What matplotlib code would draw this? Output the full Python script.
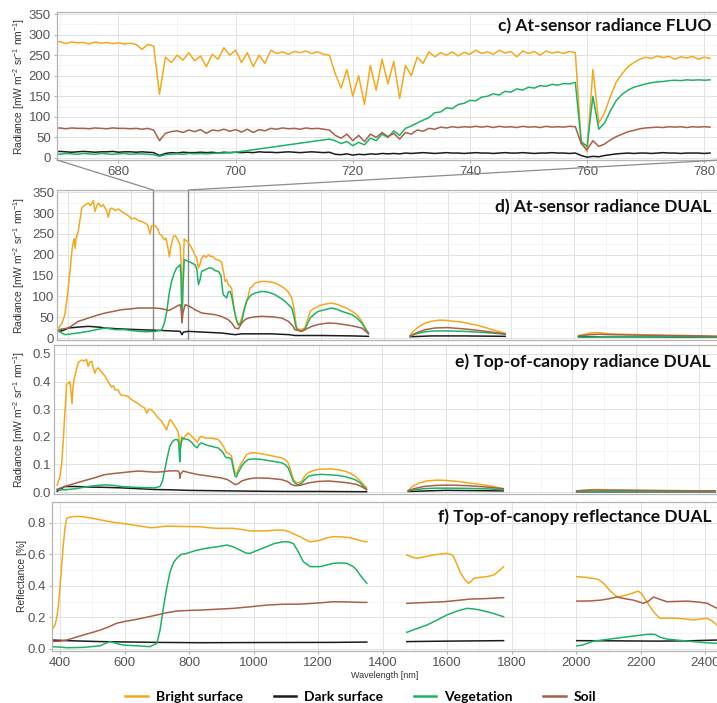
import numpy as np
import matplotlib
matplotlib.use('Agg')
import matplotlib.pyplot as plt
from matplotlib.patches import ConnectionPatch
from matplotlib.ticker import MultipleLocator
from matplotlib.lines import Line2D

plt.rcParams['font.family'] = ['Liberation Sans', 'DejaVu Sans']
plt.rcParams['mathtext.default'] = 'regular'

# ---------------- data ----------------
names = ['Bright surface', 'Dark surface', 'Vegetation', 'Soil']
colors = ['#f5a81c', '#1c1c1c', '#1fb267', '#a8604a']

# c) FLUO at-sensor radiance, 669-781 nm, 1 nm steps
fluo_wl = list(range(669, 782))
c_bright = [280, 283, 278, 282, 280, 281, 277, 282, 279, 281,
            278, 280, 277, 279, 276, 264, 276, 272, 155, 245,
            232, 250, 238, 256, 236, 248, 222, 252, 240, 268,
            250, 262, 232, 256, 222, 250, 230, 262, 254, 258,
            252, 259, 256, 260, 254, 258, 252, 250, 205, 170,
            215, 150, 200, 130, 225, 165, 240, 180, 235, 145,
            225, 200, 245, 230, 258, 246, 256, 250, 258, 248,
            257, 252, 262, 254, 258, 252, 262, 255, 259, 246,
            260, 254, 259, 250, 260, 255, 258, 254, 259, 256,
            40, 15, 215, 85, 110, 150, 185, 205, 222, 232,
            240, 245, 242, 248, 244, 247, 240, 246, 243, 247,
            240, 245, 242]
c_dark = [15, 16, 15, 14, 15, 16, 15, 14, 15, 15,
          16, 14, 15, 15, 14, 15, 14, 13, 6, 11,
          13, 12, 14, 13, 13, 14, 13, 14, 12, 14,
          13, 14, 13, 14, 13, 15, 14, 14, 13, 14,
          15, 14, 13, 14, 15, 14, 13, 14, 9, 8,
          10, 7, 9, 8, 10, 9, 11, 10, 11, 10,
          12, 11, 12, 13, 12, 11, 12, 13, 12, 12,
          11, 12, 13, 12, 12, 11, 12, 13, 12, 12,
          13, 12, 11, 12, 12, 13, 12, 12, 11, 12,
          6, 2, 4, 3, 6, 8, 10, 11, 12, 11,
          12, 12, 11, 12, 13, 12, 12, 11, 12, 12,
          12, 11, 12]
c_veg = [11, 9, 11, 10, 9, 11, 10, 9, 11, 10,
         9, 10, 11, 9, 10, 10, 9, 8, 4, 8,
         9, 10, 9, 11, 10, 11, 10, 11, 12, 12,
         13, 14, 16, 18, 20, 22, 24, 26, 28, 30,
         32, 34, 36, 38, 40, 42, 44, 46, 42, 35,
         40, 30, 38, 32, 48, 42, 58, 50, 66, 55,
         72, 78, 85, 92, 98, 110, 112, 122, 120, 130,
         133, 140, 139, 148, 150, 156, 153, 162, 160, 168,
         165, 172, 170, 176, 174, 179, 177, 181, 180, 184,
         40, 28, 150, 70, 85, 115, 140, 155, 165, 172,
         176, 180, 183, 185, 186, 188, 189, 188, 190, 189,
         190, 189, 190]
c_soil = [72, 73, 71, 73, 72, 72, 71, 73, 72, 71,
          73, 72, 72, 71, 72, 70, 72, 68, 42, 60,
          64, 66, 62, 68, 64, 69, 60, 68, 66, 70,
          65, 69, 63, 70, 62, 69, 66, 72, 70, 73,
          71, 72, 70, 73, 71, 72, 70, 68, 55, 48,
          58, 42, 55, 40, 58, 50, 62, 52, 60, 46,
          62, 58, 68, 65, 72, 70, 75, 73, 76, 74,
          76, 75, 77, 75, 77, 74, 77, 75, 76, 74,
          77, 75, 76, 74, 77, 75, 76, 75, 77, 76,
          35, 20, 42, 28, 34, 44, 52, 58, 64, 67,
          71, 73, 74, 75, 74, 76, 75, 76, 74, 76,
          75, 76, 75]

# d) DUAL at-sensor radiance
d_bright_wl = [372, 381, 391, 400, 407, 414, 418, 421, 423, 426, 433, 440, 444, 455, 465, 472, 481, 486, 492, 497,
               505, 512, 518, 523, 528, 534, 539, 550, 560, 570, 578, 586, 594, 602, 612, 623, 633, 644, 652, 660,
               665, 676, 684, 690, 697, 705, 710, 713, 718, 721, 726, 734, 740, 744, 750, 755, 758, 761, 764, 768,
               771, 781, 790, 797, 802, 808, 813, 818, 823, 830, 838, 844, 851, 858, 865, 872, 880, 886, 892, 897,
               902, 907, 913, 918, 924, 929, 934, 939, 945, 950, 957, 965, 970, 976, 981, 992, 1002, 1013, 1023, 1034,
               1045, 1055, 1066, 1076, 1087, 1097, 1108, 1115, 1120, 1124, 1134, 1145, 1150, 1158, 1166, 1176, 1192, 1205, 1218, 1234,
               1245, 1255, 1266, 1280, 1298, 1310, 1320, 1329, 1340, 1350,
               1482, 1490, 1503, 1515, 1534, 1555, 1576, 1600, 1620, 1640, 1665, 1692, 1720, 1745, 1765, 1782,
               2014, 2030, 2050, 2070, 2090, 2110, 2150, 2200, 2250, 2300, 2350, 2400, 2452]
d_bright = [25, 35, 56, 110, 160, 215, 232, 238, 215, 238, 256, 290, 312, 320, 324, 318, 330, 304, 318, 324,
            316, 320, 312, 306, 290, 310, 312, 306, 310, 304, 300, 296, 292, 286, 288, 282, 280, 276, 272, 250,
            270, 270, 262, 250, 246, 236, 240, 230, 210, 195, 220, 244, 246, 240, 232, 222, 180, 40, 150, 238,
            236, 230, 218, 208, 200, 190, 168, 178, 192, 198, 194, 200, 196, 196, 190, 188, 186, 182, 160, 136,
            140, 128, 124, 118, 80, 56, 40, 30, 38, 48, 70, 88, 100, 120, 122, 132, 134, 136, 136, 135,
            134, 132, 128, 124, 118, 110, 96, 70, 40, 24, 20, 22, 26, 45, 64, 70, 76, 80, 82, 84,
            82, 80, 76, 72, 64, 58, 50, 40, 25, 12,
            7, 15, 23, 30, 37, 41, 43, 42, 40, 39, 35, 31, 25, 19, 15, 11,
            6, 8, 12, 13, 12, 10, 9, 8, 7, 6, 6, 5, 4]
d_dark_wl = [372, 385, 402, 430, 465, 500, 518, 560, 623, 700, 755, 761, 765, 781, 830, 886, 929, 950, 1000, 1044,
             1100, 1118, 1202, 1300, 1350,
             1482, 1550, 1650, 1782,
             2014, 2200, 2452]
d_dark = [16, 18, 24, 26, 28, 26, 24, 22, 20, 18, 16, 8, 14, 16, 14, 12, 8, 10, 10, 10,
          8, 6, 6, 5, 4,
          3, 5, 5, 4,
          3, 3, 2]
d_veg_wl = [372, 381, 391, 410, 433, 465, 490, 518, 535, 549, 580, 623, 650, 676, 690, 697, 705, 713, 720, 728,
            736, 744, 750, 755, 758, 761, 764, 768, 775, 781, 792, 802, 808, 813, 818, 823, 835, 845, 855, 865,
            876, 884, 891, 897, 902, 907, 913, 918, 924, 929, 934, 939, 945, 950, 957, 965, 973, 981, 992, 1013,
            1034, 1055, 1076, 1087, 1097, 1108, 1115, 1120, 1124, 1139, 1150, 1158, 1166, 1180, 1192, 1213, 1234, 1250, 1266, 1282,
            1298, 1315, 1329, 1340, 1350,
            1482, 1500, 1530, 1560, 1600, 1650, 1700, 1740, 1782,
            2014, 2100, 2200, 2300, 2452]
d_veg = [16, 12, 8, 10, 12, 16, 20, 24, 22, 20, 20, 16, 15, 16, 18, 20, 35, 64, 105, 136,
         155, 168, 172, 176, 150, 40, 120, 188, 186, 184, 180, 176, 165, 128, 140, 160, 164, 168, 168, 162,
         160, 150, 104, 100, 96, 110, 112, 100, 75, 56, 42, 32, 34, 40, 65, 88, 98, 104, 108, 112,
         110, 104, 94, 88, 80, 72, 50, 30, 20, 16, 22, 35, 48, 58, 64, 68, 72, 69, 64, 60,
         56, 47, 36, 22, 12,
         4, 10, 15, 17, 17, 16, 14, 12, 9,
         2, 3, 3, 3, 2]
d_soil_wl = [372, 385, 402, 418, 433, 450, 465, 490, 518, 545, 570, 600, 623, 650, 676, 700, 718, 730, 744, 755,
             758, 761, 764, 771, 785, 802, 813, 823, 845, 865, 885, 907, 918, 929, 939, 950, 960, 971, 992, 1013,
             1045, 1076, 1097, 1110, 1118, 1139, 1155, 1171, 1195, 1223, 1250, 1276, 1300, 1329, 1340, 1350,
             1482, 1500, 1530, 1560, 1600, 1650, 1700, 1740, 1782,
             2014, 2050, 2080, 2120, 2200, 2300, 2400, 2452]
d_soil = [20, 22, 24, 32, 40, 44, 48, 54, 60, 64, 68, 70, 72, 72, 72, 70, 66, 70, 76, 80,
          70, 36, 60, 80, 76, 68, 64, 60, 58, 56, 52, 44, 36, 24, 22, 36, 44, 48, 51, 52,
          51, 48, 40, 30, 20, 16, 22, 28, 33, 36, 35, 32, 29, 24, 17, 10,
          5, 12, 20, 24, 25, 22, 18, 14, 10,
          5, 8, 9, 8, 7, 6, 5, 4]

# e) DUAL top-of-canopy radiance
e_bright_wl = [372, 381, 386, 391, 396, 402, 412, 416, 419, 422, 426, 432, 439, 449, 457, 465, 470, 475, 481, 486,
               491, 496, 502, 512, 523, 533, 544, 550, 555, 565, 571, 576, 586, 597, 607, 618, 628, 639, 648, 655,
               662, 670, 680, 691, 700, 705, 712, 718, 722, 728, 735, 744, 750, 755, 758, 760, 762, 766, 770, 778,
               786, 795, 807, 815, 822, 828, 838, 849, 860, 872, 881, 890, 897, 902, 907, 915, 923, 928, 934, 939,
               944, 950, 955, 965, 971, 980, 987, 1000, 1029, 1055, 1081, 1092, 1102, 1110, 1118, 1126, 1134, 1145, 1155, 1166,
               1180, 1197, 1218, 1239, 1260, 1281, 1298, 1313, 1325, 1338, 1350,
               1482, 1495, 1515, 1540, 1570, 1600, 1640, 1680, 1720, 1750, 1782,
               2014, 2050, 2080, 2120, 2200, 2300, 2452]
e_bright = [0.025, 0.057, 0.10, 0.18, 0.28, 0.39, 0.40, 0.36, 0.32, 0.38, 0.41, 0.44, 0.47, 0.478, 0.475, 0.48, 0.455, 0.47, 0.474, 0.45,
            0.43, 0.445, 0.45, 0.435, 0.42, 0.40, 0.38, 0.385, 0.37, 0.37, 0.355, 0.35, 0.35, 0.345, 0.335, 0.327, 0.32, 0.31, 0.305, 0.286,
            0.30, 0.298, 0.285, 0.268, 0.26, 0.25, 0.238, 0.225, 0.24, 0.262, 0.255, 0.238, 0.228, 0.214, 0.18, 0.13, 0.18, 0.20, 0.19, 0.205,
            0.214, 0.205, 0.19, 0.18, 0.198, 0.202, 0.196, 0.196, 0.195, 0.192, 0.19, 0.178, 0.166, 0.155, 0.142, 0.14, 0.13, 0.10, 0.07, 0.065,
            0.082, 0.095, 0.106, 0.125, 0.136, 0.14, 0.142, 0.142, 0.136, 0.13, 0.124, 0.118, 0.106, 0.08, 0.046, 0.036, 0.033, 0.04, 0.058, 0.07,
            0.077, 0.082, 0.083, 0.084, 0.08, 0.076, 0.068, 0.058, 0.045, 0.03, 0.015,
            0.006, 0.02, 0.032, 0.04, 0.043, 0.042, 0.038, 0.032, 0.026, 0.02, 0.012,
            0.004, 0.008, 0.009, 0.007, 0.006, 0.005, 0.004]
e_dark_wl = [372, 385, 396, 430, 470, 520, 576, 630, 681, 730, 786, 850, 920, 997, 1100, 1200, 1350,
             1482, 1600, 1782,
             2014, 2452]
e_dark = [0.003, 0.012, 0.02, 0.02, 0.018, 0.017, 0.015, 0.012, 0.009, 0.008, 0.006, 0.005, 0.004, 0.003, 0.002, 0.002, 0.001,
          0.002, 0.006, 0.004,
          0.001, 0.001]
e_veg_wl = [372, 396, 430, 470, 500, 523, 550, 576, 620, 681, 697, 705, 712, 720, 728, 736, 744, 752, 756, 759,
            760, 762, 767, 776, 786, 797, 807, 815, 820, 828, 840, 850, 860, 870, 881, 890, 897, 902, 907, 915,
            923, 928, 934, 939, 944, 950, 955, 965, 976, 995, 1018, 1050, 1081, 1092, 1102, 1110, 1118, 1126, 1134, 1145,
            1155, 1166, 1185, 1208, 1235, 1260, 1285, 1313, 1330, 1340, 1350,
            1482, 1500, 1530, 1570, 1620, 1680, 1740, 1782,
            2014, 2200, 2452]
e_veg = [0.008, 0.008, 0.012, 0.02, 0.024, 0.026, 0.024, 0.02, 0.017, 0.015, 0.02, 0.04, 0.08, 0.125, 0.166, 0.182, 0.19, 0.19, 0.18, 0.12,
         0.11, 0.16, 0.196, 0.192, 0.19, 0.18, 0.166, 0.16, 0.172, 0.178, 0.172, 0.168, 0.166, 0.162, 0.16, 0.15, 0.142, 0.13, 0.124, 0.125,
         0.118, 0.09, 0.057, 0.055, 0.07, 0.082, 0.094, 0.108, 0.118, 0.12, 0.118, 0.112, 0.106, 0.1, 0.088, 0.065, 0.04, 0.03, 0.026, 0.032,
         0.045, 0.057, 0.062, 0.064, 0.062, 0.06, 0.055, 0.045, 0.033, 0.02, 0.01,
         0.004, 0.008, 0.012, 0.014, 0.014, 0.013, 0.011, 0.008,
         0.002, 0.002, 0.002]
e_soil_wl = [372, 396, 430, 470, 500, 523, 550, 576, 600, 628, 655, 681, 700, 723, 740, 755, 758, 760, 762, 770,
             790, 818, 850, 891, 910, 920, 934, 944, 955, 975, 997, 1040, 1081, 1100, 1112, 1123, 1140, 1166, 1195, 1228,
             1260, 1292, 1320, 1340, 1350,
             1482, 1500, 1530, 1570, 1620, 1670, 1720, 1782,
             2014, 2060, 2120, 2200, 2300, 2452]
e_soil = [0.01, 0.02, 0.032, 0.045, 0.055, 0.063, 0.067, 0.07, 0.073, 0.076, 0.074, 0.072, 0.073, 0.076, 0.077, 0.076, 0.07, 0.05, 0.065, 0.076,
          0.07, 0.063, 0.058, 0.051, 0.045, 0.038, 0.027, 0.03, 0.04, 0.047, 0.051, 0.05, 0.045, 0.038, 0.028, 0.023, 0.024, 0.033, 0.038, 0.04,
          0.037, 0.033, 0.027, 0.016, 0.008,
          0.005, 0.012, 0.02, 0.024, 0.025, 0.023, 0.019, 0.012,
          0.004, 0.007, 0.007, 0.006, 0.005, 0.004]

# f) DUAL top-of-canopy reflectance
f_bright_wl = [374, 384, 390, 395, 402, 410, 416, 421, 436, 455, 472, 500, 524, 560, 600, 627, 650, 679, 700, 710,
               731, 780, 834, 860, 886, 937, 960, 989, 1041, 1070, 1092, 1110, 1130, 1144, 1160, 1175, 1190, 1206, 1225, 1247,
               1275, 1299, 1320, 1330, 1351,
               1475, 1490, 1506, 1530, 1558, 1580, 1599, 1612, 1620, 1630, 1640, 1655, 1666, 1675, 1682, 1700, 1723, 1745, 1760, 1775,
               2002, 2030, 2054, 2070, 2085, 2105, 2126, 2140, 2157, 2175, 2193, 2205, 2219, 2230, 2240, 2252, 2261, 2285, 2313, 2340,
               2364, 2385, 2406, 2420, 2437]
f_bright = [0.12, 0.15, 0.2, 0.28, 0.45, 0.66, 0.78, 0.83, 0.84, 0.842, 0.84, 0.83, 0.82, 0.806, 0.795, 0.787, 0.78, 0.77, 0.772, 0.776,
            0.78, 0.778, 0.776, 0.77, 0.766, 0.766, 0.76, 0.75, 0.75, 0.755, 0.755, 0.745, 0.725, 0.713, 0.695, 0.68, 0.685, 0.69, 0.705, 0.713,
            0.712, 0.706, 0.695, 0.688, 0.68,
            0.597, 0.585, 0.576, 0.585, 0.597, 0.603, 0.607, 0.6, 0.587, 0.54, 0.49, 0.44, 0.417, 0.43, 0.448, 0.455, 0.459, 0.47, 0.495, 0.523,
            0.459, 0.455, 0.448, 0.44, 0.417, 0.37, 0.332, 0.335, 0.343, 0.355, 0.368, 0.345, 0.30, 0.265, 0.237, 0.21, 0.195, 0.196, 0.195, 0.19,
            0.184, 0.19, 0.195, 0.18, 0.152]
f_dark_wl = [374, 421, 524, 700, 834, 1000, 1247, 1351,
             1475, 1600, 1775,
             2002, 2100, 2250, 2350, 2437]
f_dark = [0.057, 0.053, 0.047, 0.042, 0.04, 0.041, 0.042, 0.044,
          0.047, 0.05, 0.053,
          0.053, 0.052, 0.05, 0.052, 0.057]
f_veg_wl = [374, 400, 421, 470, 524, 540, 555, 575, 596, 640, 679, 700, 710, 720, 730, 741, 752, 762, 775, 793,
            820, 855, 890, 917, 935, 958, 975, 989, 1010, 1041, 1065, 1092, 1108, 1123, 1138, 1154, 1175, 1206, 1230, 1247,
            1270, 1289, 1309, 1320, 1330, 1351,
            1475, 1500, 1537, 1570, 1599, 1630, 1661, 1680, 1703, 1740, 1775,
            2002, 2020, 2054, 2100, 2157, 2200, 2230, 2245, 2260, 2282, 2320, 2364, 2400, 2437]
f_veg = [0.015, 0.012, 0.008, 0.01, 0.02, 0.035, 0.047, 0.035, 0.025, 0.02, 0.015, 0.036, 0.12, 0.258, 0.38, 0.49, 0.55, 0.576, 0.6, 0.607,
         0.625, 0.64, 0.65, 0.66, 0.65, 0.628, 0.61, 0.607, 0.625, 0.65, 0.67, 0.681, 0.68, 0.67, 0.62, 0.555, 0.523, 0.523, 0.535, 0.544,
         0.546, 0.544, 0.523, 0.5, 0.47, 0.417,
         0.106, 0.125, 0.152, 0.185, 0.216, 0.24, 0.258, 0.255, 0.247, 0.228, 0.205,
         0.02, 0.025, 0.05, 0.062, 0.077, 0.088, 0.095, 0.092, 0.075, 0.063, 0.055, 0.047, 0.04, 0.036]
f_soil_wl = [374, 400, 421, 450, 472, 500, 524, 550, 575, 600, 627, 660, 700, 730, 762, 800, 834, 880, 937, 990,
             1041, 1090, 1144, 1200, 1247, 1290, 1330, 1351,
             1475, 1530, 1589, 1630, 1671, 1720, 1775,
             2002, 2040, 2075, 2100, 2126, 2150, 2178, 2209, 2225, 2240, 2260, 2282, 2310, 2344, 2380, 2406, 2437]
f_soil = [0.047, 0.05, 0.057, 0.075, 0.089, 0.105, 0.12, 0.14, 0.163, 0.175, 0.184, 0.198, 0.216, 0.23, 0.241, 0.245, 0.247, 0.252, 0.258, 0.268,
          0.279, 0.284, 0.285, 0.292, 0.30, 0.299, 0.296, 0.296,
          0.29, 0.295, 0.30, 0.308, 0.317, 0.32, 0.326,
          0.304, 0.305, 0.31, 0.318, 0.33, 0.32, 0.31, 0.29, 0.305, 0.33, 0.315, 0.30, 0.302, 0.304, 0.298, 0.29, 0.258]

# water absorption bands where the sensor has no data
band_gaps = [1400, 1900]


def gapped(wl, v):
    # break the line at the water absorption gaps
    wl = np.asarray(wl, float)
    v = np.asarray(v, float)
    assert len(wl) == len(v)
    seg = np.digitize(wl, band_gaps)
    cut = np.where(np.diff(seg) != 0)[0] + 1
    return np.insert(wl, cut, np.nan), np.insert(v, cut, np.nan)


W, H = 717, 703
fig = plt.figure(figsize=(W / 100, H / 100), dpi=100)


def box(left, top, bottom, right=720):
    return [left / W, 1 - bottom / H, (right - left) / W, (bottom - top) / H]


def style(ax, xmaj, ymaj):
    ax.xaxis.set_major_locator(MultipleLocator(xmaj))
    ax.xaxis.set_minor_locator(MultipleLocator(xmaj / 2))
    ax.yaxis.set_major_locator(MultipleLocator(ymaj))
    ax.yaxis.set_minor_locator(MultipleLocator(ymaj / 2))
    ax.grid(which='major', color='#e2e2e2', lw=0.7)
    ax.grid(which='minor', color='#f0f0f0', lw=0.5)
    ax.set_axisbelow(True)
    for s in ax.spines.values():
        s.set_color('#b5b5b5')
        s.set_linewidth(0.9)
    ax.tick_params(which='major', length=2.5, color='#b5b5b5', labelsize=9.5,
                   labelcolor='#555555', pad=2)
    ax.tick_params(which='minor', length=0)


rad_label = 'Radiance [mW m$^{-2}$ sr$^{-1}$ nm$^{-1}$]'
title_font = dict(family=['Lato', 'DejaVu Sans'], weight='bold', size=12.5, color='#111111')
ylab_font = dict(fontsize=7.4, color='#333333')

# c) FLUO
axc = fig.add_axes(box(57, 12, 160))
for vals, col in zip([c_bright, c_dark, c_veg, c_soil], colors):
    axc.plot(fluo_wl, vals, color=col, lw=1.1)
axc.set_xlim(669.5, 782.7)
axc.set_ylim(-4.9, 354.9)
style(axc, 20, 50)
axc.set_ylabel(rad_label, **ylab_font)

# d) DUAL at-sensor
axd = fig.add_axes(box(57, 190, 340))
for (wl, vals), col in zip([(d_bright_wl, d_bright), (d_dark_wl, d_dark),
                            (d_veg_wl, d_veg), (d_soil_wl, d_soil)], colors):
    axd.plot(*gapped(wl, vals), color=col, lw=1.1)
axd.set_xlim(366, 2461)
axd.set_ylim(-4.8, 355.4)
style(axd, 200, 50)
axd.tick_params(labelbottom=False, length=0)
axd.set_ylabel(rad_label, **ylab_font)
axd.axvspan(670, 781, fill=False, edgecolor='#8c8c8c', lw=1.0)

# e) DUAL top-of-canopy radiance
axe = fig.add_axes(box(54, 345, 494))
for (wl, vals), col in zip([(e_bright_wl, e_bright), (e_dark_wl, e_dark),
                            (e_veg_wl, e_veg), (e_soil_wl, e_soil)], colors):
    axe.plot(*gapped(wl, vals), color=col, lw=1.1)
axe.set_xlim(362, 2467)
axe.set_ylim(-0.0072, 0.5326)
style(axe, 200, 0.1)
axe.tick_params(labelbottom=False, length=0)
axe.set_ylabel(rad_label, **ylab_font)

# f) DUAL reflectance
axf = fig.add_axes(box(52, 502, 651))
for (wl, vals), col in zip([(f_bright_wl, f_bright), (f_dark_wl, f_dark),
                            (f_veg_wl, f_veg), (f_soil_wl, f_soil)], colors):
    axf.plot(*gapped(wl, vals), color=col, lw=1.1)
axf.set_xlim(375, 2446)
axf.set_ylim(-0.0127, 0.9333)
style(axf, 200, 0.2)
axf.set_ylabel('Reflectance [%]', **ylab_font)

axc.yaxis.set_label_coords(-30 / 663, 0.5)
axd.yaxis.set_label_coords(-30 / 663, 0.5)
axe.yaxis.set_label_coords(-27 / 666, 0.5)
axf.yaxis.set_label_coords(-25 / 668, 0.5)

# zoom lines from FLUO panel to the box in panel d
for xa, xb in [(0, 670), (1, 781)]:
    con = ConnectionPatch(xyA=(xa, 0), coordsA=axc.transAxes,
                          xyB=(xb, 355.4), coordsB=axd.transData,
                          color='#8c8c8c', lw=0.9)
    fig.add_artist(con)

titles = ['c) At-sensor radiance FLUO', 'd) At-sensor radiance DUAL',
          'e) Top-of-canopy radiance DUAL', 'f) Top-of-canopy reflectance DUAL']
for t, y in zip(titles, [26, 207, 362, 517]):
    fig.text(711 / W, 1 - y / H, t, ha='right', va='center', **title_font)

fig.text(385 / W, 1 - 675 / H, 'Wavelength [nm]', ha='center', va='center',
         fontsize=6.5, color='#333333')

handles = [Line2D([], [], color=c, lw=1.8) for c in colors]
fig.legend(handles, names, loc='center', bbox_to_anchor=(361 / W, 1 - 697 / H),
           ncol=4, frameon=False, handlelength=1.6, handletextpad=0.6,
           columnspacing=2.2,
           prop=dict(family=['Lato', 'DejaVu Sans'], weight='bold', size=10))

fig.savefig('out.png', dpi=100)
